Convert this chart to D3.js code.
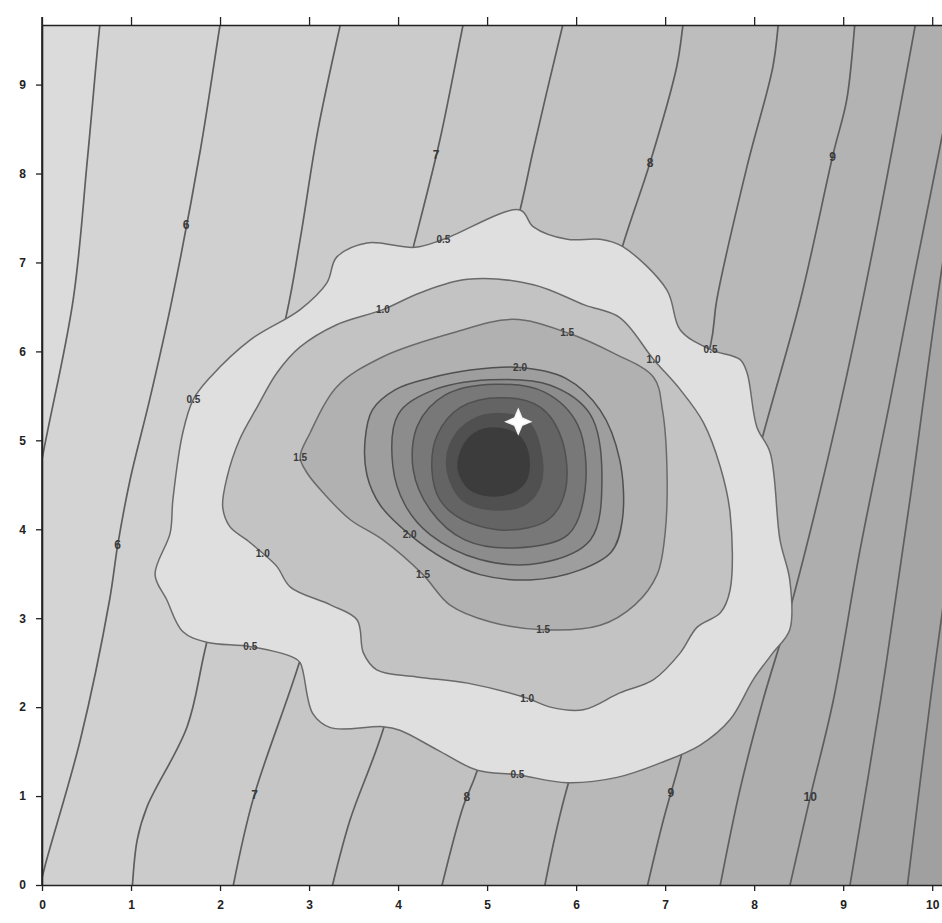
<!DOCTYPE html>
<html>
<head>
<meta charset="utf-8">
<script src="https://cdn.jsdelivr.net/npm/d3@7"></script>
<style>
  body { margin: 0; background: #fff; }
  text { font-family: "Liberation Sans", Arial, sans-serif; }
</style>
</head>
<body>
<svg id="chart" width="942" height="923"></svg>
<script>
// regional contour lines, bottom to top, in data units [x, y]
const regionalLevels = [5.5, 6, 6.5, 7, 7.5, 8, 8.5, 9, 9.5, 10, 10.5, 11];
const regionalLines = [
  [[-1.0,-0.1],[-0.30,3.21],[0.02,4.89],[0.35,6.58],[0.51,8.16],[0.65,9.67],[0.68,9.9]],
  [[-0.04,-0.1],[0.03,0.20],[0.43,1.63],[0.76,3.21],[0.85,3.82],[0.99,4.56],[1.21,5.46],[1.46,6.58],[1.78,8.27],[2.0,9.67],[2.04,9.9]],
  [[1.01,-0.1],[1.07,0.51],[1.18,0.88],[1.63,1.78],[1.83,2.64],[2.28,4.56],[2.75,6.43],[2.90,7.26],[3.10,8.49],[3.35,9.67],[3.40,9.9]],
  [[2.13,-0.1],[2.37,0.96],[2.90,2.53],[3.57,4.89],[4.17,7.17],[4.47,8.38],[4.73,9.67],[4.78,9.9]],
  [[3.24,-0.1],[3.46,0.73],[3.83,1.74],[4.58,4.56],[5.37,7.59],[5.52,8.27],[5.85,9.67],[5.91,9.9]],
  [[4.47,-0.1],[4.73,0.88],[4.89,1.29],[5.71,4.33],[6.52,7.18],[6.83,8.12],[7.13,9.20],[7.20,9.67],[7.23,9.9]],
  [[5.63,-0.1],[5.90,1.10],[6.72,3.54],[7.51,6.07],[7.58,6.58],[7.92,8.08],[8.21,9.20],[8.27,9.67],[8.29,9.9]],
  [[6.78,-0.1],[6.98,0.73],[7.17,1.41],[7.62,3.21],[8.10,5.06],[8.52,6.58],[8.89,8.23],[9.04,8.83],[9.13,9.67],[9.15,9.9]],
  [[7.60,-0.1],[7.84,1.07],[8.10,2.08],[8.40,3.09],[8.85,4.89],[9.22,6.58],[9.81,9.67],[9.85,9.9]],
  [[8.38,-0.1],[8.63,0.99],[8.89,2.08],[9.19,3.77],[9.53,5.46],[9.79,6.81],[10.36,9.67],[10.40,9.9]],
  [[9.06,-0.1],[9.42,2.08],[9.75,4.33],[10.09,6.81],[10.54,9.67],[10.57,9.9]],
  [[9.71,-0.1],[9.98,2.08],[10.31,4.56],[10.9,9.9]]
];
// [line index, y] where a regional label sits
const regionalLabels = [[1,7.42],[1,3.82],[3,8.21],[3,1.01],[5,8.12],[5,0.99],[7,8.19],[7,1.03],[9,0.99]];

// drawdown rings around the well, outer to inner
const ringLevels = [0.5, 1.0, 1.5, 2.0, 2.5, 3.0, 3.5, 4.0, 4.5];
const rings = [
  [[1.27,3.49],[1.44,3.96],[1.47,4.33],[1.58,5.08],[1.70,5.46],[1.89,5.71],[2.34,6.13],[2.90,6.47],[3.20,6.77],[3.31,7.06],[3.65,7.22],[4.19,7.17],[4.51,7.26],[5.37,7.59],[5.52,7.40],[5.90,7.26],[6.27,7.26],[6.52,7.18],[7.02,6.69],[7.17,6.24],[7.51,6.02],[7.84,5.91],[7.92,5.76],[8.03,5.15],[8.18,4.86],[8.29,3.88],[8.40,3.43],[8.40,2.87],[8.21,2.61],[7.99,2.31],[7.73,1.86],[7.39,1.57],[6.94,1.37],[6.46,1.21],[5.90,1.15],[5.34,1.24],[4.89,1.29],[4.44,1.52],[4.02,1.74],[3.83,1.78],[3.24,1.77],[3.04,1.93],[2.90,2.50],[2.82,2.56],[2.34,2.68],[1.85,2.73],[1.58,2.85],[1.40,3.21]],
  [[2.03,4.25],[2.08,4.59],[2.22,5.01],[2.42,5.38],[2.64,5.76],[2.90,6.05],[3.31,6.30],[3.83,6.47],[4.25,6.66],[4.78,6.81],[5.52,6.75],[6.10,6.52],[6.49,6.38],[6.87,5.91],[7.17,5.57],[7.43,5.20],[7.62,4.70],[7.73,4.18],[7.73,3.32],[7.62,3.06],[7.36,2.90],[7.17,2.61],[6.87,2.31],[6.49,2.16],[6.08,1.97],[5.71,2.00],[5.45,2.10],[4.78,2.27],[4.21,2.34],[3.76,2.42],[3.61,2.61],[3.54,2.98],[3.24,3.15],[2.79,3.35],[2.64,3.58],[2.48,3.73],[2.30,3.88],[2.11,4.03]],
  [[2.90,4.81],[3.01,5.08],[3.31,5.60],[3.83,5.94],[4.62,6.21],[5.29,6.36],[5.90,6.21],[6.42,5.98],[6.87,5.71],[6.97,5.34],[7.02,4.70],[7.00,3.96],[6.91,3.49],[6.66,3.15],[6.27,2.92],[5.63,2.87],[5.03,2.96],[4.58,3.15],[4.28,3.49],[3.83,3.88],[3.46,4.11],[3.16,4.41],[2.98,4.63]],
  [[3.63,5.01],[3.71,5.34],[3.97,5.57],[4.36,5.70],[4.81,5.79],[5.37,5.82],[5.88,5.70],[6.27,5.34],[6.49,4.78],[6.52,4.11],[6.40,3.75],[6.04,3.54],[5.48,3.43],[4.92,3.49],[4.53,3.66],[4.13,3.94],[3.80,4.27],[3.65,4.61]],
  [[3.94,4.72],[4.00,5.29],[4.36,5.55],[5.03,5.68],[5.71,5.62],[6.16,5.29],[6.29,4.56],[6.16,3.88],[5.60,3.62],[4.92,3.66],[4.36,3.94],[4.08,4.27]],
  [[4.17,4.67],[4.22,5.17],[4.53,5.51],[5.09,5.63],[5.65,5.54],[6.02,5.17],[6.10,4.44],[5.91,3.94],[5.31,3.79],[4.75,3.88],[4.36,4.22]],
  [[4.38,4.67],[4.44,5.06],[4.70,5.37],[5.15,5.48],[5.60,5.37],[5.84,5.01],[5.88,4.44],[5.69,4.11],[5.20,3.99],[4.72,4.11],[4.47,4.33]],
  [[4.55,4.67],[4.61,5.01],[4.83,5.23],[5.15,5.30],[5.46,5.21],[5.60,4.90],[5.60,4.50],[5.43,4.28],[5.06,4.22],[4.72,4.33]],
  [[4.66,4.67],[4.72,4.95],[4.90,5.12],[5.15,5.15],[5.37,5.06],[5.48,4.84],[5.46,4.56],[5.31,4.41],[5.03,4.36],[4.79,4.44]]
];
// [ring index, vertex index] where a ring label sits
const ringLabels = [[0,12],[0,4],[0,44],[0,35],[0,20],[1,7],[1,13],[1,35],[1,26],[2,6],[2,0],[2,15],[2,18],[3,15],[3,5]];

const well = [5.35, 5.21];
const xTicks = [0, 1, 2, 3, 4, 5, 6, 7, 8, 9, 10];
const yTicks = [0, 1, 2, 3, 4, 5, 6, 7, 8, 9];

const svg = d3.select("#chart");
const mLeft = 42, mTop = 25, mBottom = 885, mRight = 942;

const x = d3.scaleLinear().domain([0, 10.11]).range([mLeft, mRight]);
const y = d3.scaleLinear().domain([0, 9.67]).range([mBottom, mTop]);

const regionalColor = d3.scaleLinear().domain([5.25, 11.25]).range(["#d9d9d9", "#a0a0a0"]);
const ringColor = d3.scaleLinear().domain([0.5, 1.0, 2.5, 4.5]).range(["#dfdfdf", "#c3c3c3", "#8c8c8c", "#3c3c3c"]);

svg.append("clipPath").attr("id", "plot")
  .append("rect").attr("x", mLeft).attr("y", mTop).attr("width", mRight - mLeft).attr("height", mBottom - mTop);

const g = svg.append("g").attr("clip-path", "url(#plot)");

const openLine = d3.line().x(d => x(d[0])).y(d => y(d[1])).curve(d3.curveCatmullRom.alpha(0.5));
const closedLine = d3.line().x(d => x(d[0])).y(d => y(d[1])).curve(d3.curveCatmullRomClosed.alpha(0.5));

// regional bands: base colour then each band to the right of its line
g.append("rect").attr("x", mLeft).attr("y", mTop).attr("width", mRight - mLeft).attr("height", mBottom - mTop)
  .attr("fill", regionalColor(regionalLevels[0] - 0.5));

regionalLines.forEach((pts, i) => {
  const d = openLine(pts) + `L${x(12)},${y(9.9)}L${x(12)},${y(-0.1)}Z`;
  g.append("path").attr("d", d).attr("fill", regionalColor(regionalLevels[i] + 0.25));
});

g.selectAll(".rline").data(regionalLines).enter().append("path")
  .attr("class", "rline")
  .attr("d", openLine)
  .attr("fill", "none")
  .attr("stroke", "#5e5e5e")
  .attr("stroke-width", 1.7);

function xOnLine(pts, yv) {
  for (let i = 1; i < pts.length; i++) {
    const a = pts[i - 1], b = pts[i];
    if (yv >= a[1] && yv <= b[1]) return a[0] + (b[0] - a[0]) * (yv - a[1]) / (b[1] - a[1]);
  }
  return pts[0][0];
}

const fmt = d3.format("~g");
regionalLabels.forEach(([li, yv]) => {
  g.append("text")
    .attr("x", x(xOnLine(regionalLines[li], yv)))
    .attr("y", y(yv))
    .attr("text-anchor", "middle")
    .attr("dominant-baseline", "central")
    .attr("font-size", 12)
    .attr("font-weight", "bold")
    .attr("fill", "#3a3a3a")
    .text(fmt(regionalLevels[li]));
});

// drawdown rings
rings.forEach((pts, i) => {
  g.append("path")
    .attr("d", closedLine(pts))
    .attr("fill", ringColor(ringLevels[i]))
    .attr("stroke", i < 3 ? "#6a6a6a" : "#505050")
    .attr("stroke-width", 1.5);
});

const fmt1 = d3.format(".1f");
ringLabels.forEach(([ri, vi]) => {
  const p = rings[ri][vi];
  g.append("text")
    .attr("x", x(p[0]))
    .attr("y", y(p[1]))
    .attr("text-anchor", "middle")
    .attr("dominant-baseline", "central")
    .attr("font-size", 10)
    .attr("font-weight", "bold")
    .attr("fill", "#3a3a3a")
    .text(fmt1(ringLevels[ri]));
});

// well marker: four-point star
const star4 = {
  draw(ctx, size) {
    const r = Math.sqrt(size), k = r * 0.3;
    ctx.moveTo(0, -r);
    ctx.lineTo(k, -k); ctx.lineTo(r, 0); ctx.lineTo(k, k);
    ctx.lineTo(0, r); ctx.lineTo(-k, k); ctx.lineTo(-r, 0); ctx.lineTo(-k, -k);
    ctx.closePath();
  }
};
g.append("path")
  .attr("d", d3.symbol(star4, 150)())
  .attr("transform", `translate(${x(well[0])},${y(well[1])})`)
  .attr("fill", "#fff")
  .attr("stroke", "#f4f4f4")
  .attr("stroke-width", 1.5);

// axes
const axisStyle = sel => {
  sel.select(".domain").attr("stroke", "#222").attr("stroke-width", 1.6);
  sel.selectAll(".tick line").attr("stroke", "#222").attr("stroke-width", 1.3);
  sel.selectAll("text").attr("font-size", 12).attr("font-weight", "bold").attr("fill", "#222")
    .style("font-family", "'Liberation Sans', Arial, sans-serif");
};

svg.append("g").attr("transform", `translate(0,${mBottom})`)
  .call(d3.axisBottom(x).tickValues(xTicks).tickSize(6).tickPadding(9).tickSizeOuter(0))
  .call(axisStyle);

svg.append("g").attr("transform", `translate(0,${mTop})`)
  .call(d3.axisTop(x).tickValues(xTicks).tickSize(8).tickFormat("").tickSizeOuter(0))
  .call(axisStyle);

svg.append("g").attr("transform", `translate(${mLeft},0)`)
  .call(d3.axisLeft(y).tickValues(yTicks).tickSize(6).tickPadding(10).tickSizeOuter(0))
  .call(axisStyle);

// left axis runs up to the top frame
svg.append("line").attr("x1", mLeft).attr("x2", mLeft).attr("y1", mTop - 8).attr("y2", mBottom)
  .attr("stroke", "#222").attr("stroke-width", 1.6);
</script>
</body>
</html>
